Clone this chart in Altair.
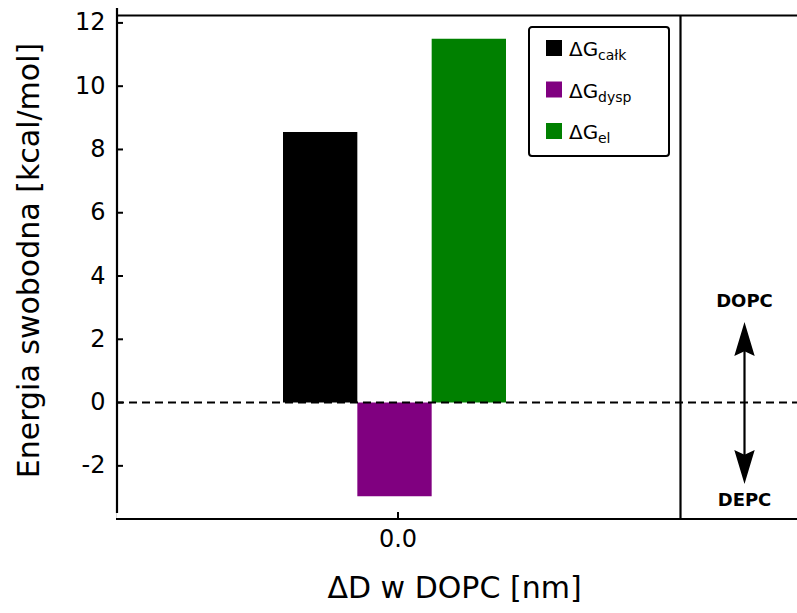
import altair as alt
import pandas as pd

# ---------------- data ----------------
categories = ["0.0"]
series_names = ["ΔG całk", "ΔG dysp", "ΔG el"]
series_main = ["ΔG", "ΔG", "ΔG"]
series_sub = ["całk", "dysp", "el"]
values = [8.55, -2.96, 11.5]
colors = ["#000000", "#800080", "#008000"]
y_ticks = [-2, 0, 2, 4, 6, 8, 10, 12]
y_domain = [-3.68, 12.25]
side_labels = ["DOPC", "DEPC"]
x_title = "ΔD w DOPC [nm]"
y_title = "Energia swobodna [kcal/mol]"

FONT = "DejaVu Sans"
W, H = 681, 504
MAIN_W = 564

df = pd.DataFrame({
    "pos": categories * len(series_names),
    "series": series_names,
    "value": values,
})
ticks_df = pd.DataFrame({"v": y_ticks})
one = pd.DataFrame({"a": [0]})

yscale = alt.Scale(domain=y_domain, nice=False, zero=False)
xscale = alt.Scale(domain=categories, range=[0, MAIN_W], paddingOuter=0.7646, paddingInner=0)

bars = alt.Chart(df).mark_bar().encode(
    x=alt.X("pos:N", scale=xscale, sort=None,
            axis=alt.Axis(title=x_title, labelFontSize=24, labelPadding=8, ticks=False,
                          domain=False, grid=False, labelAngle=0, labelFont=FONT,
                          titleFont=FONT, titleFontSize=30, titleFontWeight="normal",
                          titleX=338, titleY=78, titleAlign="center",
                          titleBaseline="alphabetic", titleColor="black", labelColor="black")),
    xOffset=alt.XOffset("series:N", sort=None,
                        scale=alt.Scale(domain=series_names, range=[-3.5, 219.5],
                                        paddingInner=0, paddingOuter=0)),
    y=alt.Y("value:Q", scale=yscale,
            axis=alt.Axis(title=y_title, values=y_ticks, labelExpr="'' + datum.value",
                          labelFontSize=24, labelPadding=11, ticks=False, domain=False,
                          grid=False, labelFont=FONT, titleFont=FONT, titleFontSize=30,
                          titleFontWeight="normal", titleX=-78, titleY=245,
                          titleAlign="center", titleBaseline="alphabetic", titleAngle=270,
                          titleColor="black", labelColor="black")),
    y2=alt.datum(0),
    color=alt.Color("series:N", scale=alt.Scale(domain=series_names, range=colors), legend=None),
)

dashed = alt.Chart(one).transform_calculate(z="0").mark_rule(
    color="black", strokeWidth=2, strokeDash=[8, 5]).encode(
    y=alt.Y("z:Q", scale=yscale),
    x=alt.value(0), x2=alt.value(W),
)

yticks = alt.Chart(ticks_df).mark_rule(color="black", strokeWidth=2).encode(
    y=alt.Y("v:Q", scale=yscale), x=alt.value(0), x2=alt.value(7),
)

xtick = alt.Chart(pd.DataFrame({"pos": categories})).mark_rule(color="black", strokeWidth=2).encode(
    x=alt.X("pos:N", scale=xscale, bandPosition=0.5),
    y=alt.value(H - 7), y2=alt.value(H),
)

def hrule(y, x0, x1):
    return alt.Chart(one).mark_rule(color="black", strokeWidth=2.2).encode(
        y=alt.value(y), x=alt.value(x0), x2=alt.value(x1))

def vrule(x, y0, y1):
    return alt.Chart(one).mark_rule(color="black", strokeWidth=2.2).encode(
        x=alt.value(x), y=alt.value(y0), y2=alt.value(y1))

frame = [
    vrule(1, -7, H - 6),        # left spine
    hrule(H, 0, W),             # bottom line
    hrule(0.5, 0, W),           # top line
    vrule(MAIN_W + 0.5, 0, H),  # separator
]

# legend
legend_layers = [
    alt.Chart(one).mark_rect(fill="white", stroke="black", strokeWidth=2, cornerRadius=3).encode(
        x=alt.value(413), x2=alt.value(553), y=alt.value(12), y2=alt.value(141))
]
for i, (m, s, c) in enumerate(zip(series_main, series_sub, colors)):
    base_y = 41 + i * 41.5
    legend_layers.append(
        alt.Chart(one).mark_square(size=256, color=c, opacity=1).encode(
            x=alt.value(438), y=alt.value(base_y - 8)))
    legend_layers.append(
        alt.Chart(one).mark_text(text=m, font=FONT, fontSize=20, align="left",
                                 baseline="alphabetic", color="black").encode(
            x=alt.value(453), y=alt.value(base_y)))
    legend_layers.append(
        alt.Chart(one).mark_text(text=s, font=FONT, fontSize=14, align="left",
                                 baseline="alphabetic", color="black").encode(
            x=alt.value(482), y=alt.value(base_y + 4)))

# right panel annotation
AX = 628.5
arrow_path = "M0,-1L0.6,1L0,0.72L-0.6,1Z"
side = [
    alt.Chart(one).mark_text(text=side_labels[0], font=FONT, fontSize=18, fontWeight="bold",
                             align="center", baseline="middle", color="black").encode(
        x=alt.value(AX), y=alt.value(287)),
    alt.Chart(one).mark_text(text=side_labels[1], font=FONT, fontSize=18, fontWeight="bold",
                             align="center", baseline="middle", color="black").encode(
        x=alt.value(AX), y=alt.value(486)),
    vrule(AX, 330, 448),
    alt.Chart(one).mark_point(shape=arrow_path, size=1156, filled=True, color="black",
                              opacity=1, strokeWidth=0).encode(
        x=alt.value(AX), y=alt.value(324)),
    alt.Chart(one).mark_point(shape=arrow_path, size=1156, filled=True, color="black",
                              opacity=1, strokeWidth=0, angle=180).encode(
        x=alt.value(AX), y=alt.value(452)),
]

chart = alt.layer(bars, dashed, yticks, xtick, *frame, *legend_layers, *side).properties(
    width=W, height=H,
    autosize=alt.AutoSizeParams(type="none"),
    padding={"left": 116, "top": 15, "right": 0, "bottom": 94},
    background="white",
).configure_view(stroke=None).configure(font=FONT)

chart.save("out.html", embed_options={"renderer": "svg", "actions": False})
